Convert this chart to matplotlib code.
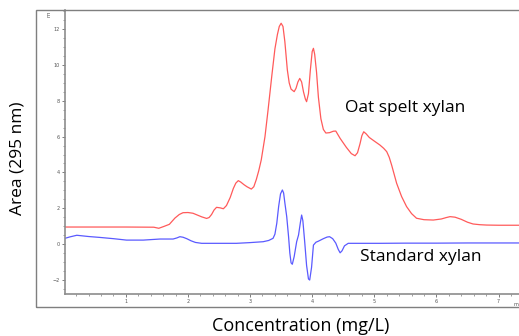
import matplotlib
matplotlib.use("Agg")
import matplotlib.pyplot as plt
from matplotlib.patches import Rectangle
from matplotlib.ticker import MultipleLocator

# Oat spelt xylan trace (red)
oat_x = [0.02, 0.5, 1.0, 1.45, 1.53, 1.61, 1.70, 1.79, 1.86, 1.92, 2.00, 2.08, 2.15,
         2.22, 2.30, 2.34, 2.38, 2.42, 2.46, 2.52, 2.57, 2.62, 2.68, 2.73, 2.77,
         2.81, 2.85, 2.90, 2.95, 3.02, 3.06, 3.10, 3.14, 3.18, 3.24, 3.29, 3.35,
         3.40, 3.44, 3.47, 3.50, 3.53, 3.56, 3.60, 3.63, 3.66, 3.71, 3.74, 3.77,
         3.80, 3.83, 3.86, 3.89, 3.91, 3.94, 3.97, 4.00, 4.02, 4.04, 4.07, 4.10,
         4.14, 4.18, 4.22, 4.28, 4.34, 4.38, 4.45, 4.55, 4.63, 4.69, 4.73, 4.77,
         4.80, 4.83, 4.87, 4.92, 5.00, 5.09, 5.15, 5.20, 5.24, 5.28, 5.36, 5.44,
         5.52, 5.60, 5.68, 5.80, 5.95, 6.08, 6.16, 6.22, 6.30, 6.40, 6.50, 6.59,
         6.70, 6.81, 7.00, 7.33]
oat_y = [0.95, 0.95, 0.95, 0.94, 0.88, 0.98, 1.10, 1.45, 1.65, 1.75, 1.76, 1.72, 1.62,
         1.52, 1.43, 1.48, 1.65, 1.90, 2.05, 2.02, 1.97, 2.15, 2.60, 3.10, 3.40,
         3.54, 3.46, 3.32, 3.20, 3.07, 3.20, 3.60, 4.10, 4.70, 6.00, 7.50, 9.40,
         10.9, 11.7, 12.15, 12.33, 12.15, 11.3, 9.72, 9.00, 8.65, 8.51, 8.70, 9.05,
         9.25, 9.05, 8.50, 8.10, 7.95, 8.40, 9.70, 10.75, 10.93, 10.60, 9.60, 8.20,
         7.00, 6.40, 6.20, 6.22, 6.30, 6.31, 5.90, 5.40, 5.05, 4.93, 5.10, 5.60,
         6.05, 6.27, 6.15, 5.95, 5.75, 5.53, 5.35, 5.16, 4.85, 4.40, 3.39, 2.65,
         2.09, 1.70, 1.44, 1.36, 1.34, 1.40, 1.48, 1.53, 1.50, 1.38, 1.22, 1.12,
         1.08, 1.06, 1.05, 1.05]

# Standard xylan trace (blue)
std_x = [0.02, 0.10, 0.21, 0.40, 0.58, 0.80, 1.01, 1.28, 1.55, 1.76, 1.82, 1.87,
         1.92, 1.98, 2.05, 2.12, 2.22, 2.50, 2.78, 3.00, 3.21, 3.30, 3.37, 3.40,
         3.43, 3.46, 3.49, 3.52, 3.54, 3.56, 3.59, 3.62, 3.64, 3.66, 3.68, 3.71,
         3.75, 3.78, 3.81, 3.83, 3.85, 3.88, 3.91, 3.94, 3.96, 3.99, 4.02, 4.06,
         4.10, 4.18, 4.24, 4.28, 4.33, 4.38, 4.42, 4.45, 4.48, 4.52, 4.58, 4.80,
         5.09, 5.50, 6.00, 6.50, 7.33]
std_y = [0.32, 0.40, 0.49, 0.42, 0.37, 0.30, 0.22, 0.22, 0.28, 0.28, 0.34, 0.41,
         0.38, 0.30, 0.18, 0.09, 0.04, 0.04, 0.04, 0.08, 0.13, 0.20, 0.32, 0.55,
         1.16, 2.10, 2.80, 3.02, 2.85, 2.30, 1.53, 0.40, -0.50, -1.05, -1.13, -0.70,
         0.13, 0.50, 1.20, 1.62, 1.30, 0.10, -1.20, -1.95, -2.01, -1.30, -0.06, 0.10,
         0.16, 0.30, 0.39, 0.41, 0.30, 0.05, -0.30, -0.49, -0.38, -0.10, 0.04, 0.04,
         0.04, 0.05, 0.05, 0.06, 0.06]

x_ticks = [1, 2, 3, 4, 5, 6, 7]
y_ticks = [-2, 0, 2, 4, 6, 8, 10, 12]

W, H = 519, 336
fig = plt.figure(figsize=(W / 100, H / 100), dpi=100)

# outer grey frame of the exported chromatogram (right side runs off the image)
fig.patches.append(Rectangle((36 / W, 1 - 307 / H), 1.0, (307 - 10) / H,
                             transform=fig.transFigure, fill=False,
                             edgecolor="#7f7f7f", lw=1.0))

ax = fig.add_axes([65 / W, 1 - 294 / H, (W - 65) / W, (294 - 10) / H])
ax.plot(oat_x, oat_y, color="#ff5a5a", lw=0.9)
ax.plot(std_x, std_y, color="#5a5aff", lw=0.9)

ax.set_xlim(0.02, 7.33)
ax.set_ylim(-2.79, 13.07)
ax.set_xticks(x_ticks)
ax.set_yticks(y_ticks)
ax.xaxis.set_minor_locator(MultipleLocator(0.2))
ax.yaxis.set_minor_locator(MultipleLocator(0.5))

for side in ("top", "right"):
    ax.spines[side].set_visible(False)
for side in ("left", "bottom"):
    ax.spines[side].set_color("#8c8c8c")
    ax.spines[side].set_linewidth(1.2)
ax.tick_params(which="major", length=2.5, width=0.6, color="#666666",
               labelsize=3.5, labelcolor="#555555", pad=1)
ax.tick_params(which="minor", length=1.5, width=0.5, color="#777777")

ax.text(-0.24, 12.85, "m", rotation=90, fontsize=4, color="#555555",
        ha="center", va="center")
ax.text(7.24, -3.35, "m", fontsize=3.5, color="#555555",
        ha="left", va="center", clip_on=False)

font = "Open Sans"
fig.text(18 / W, 1 - 158 / H, "Area (295 nm)", rotation=90, family=font,
         fontsize=12.5, ha="center", va="center")
fig.text(301 / W, 1 - 326 / H, "Concentration (mg/L)", family=font,
         fontsize=13, ha="center", va="center")
fig.text(405 / W, 1 - 108 / H, "Oat spelt xylan", family=font,
         fontsize=12.5, ha="center", va="center")
fig.text(421 / W, 1 - 257 / H, "Standard xylan", family=font,
         fontsize=12.5, ha="center", va="center")

fig.savefig("out.png", dpi=100)
